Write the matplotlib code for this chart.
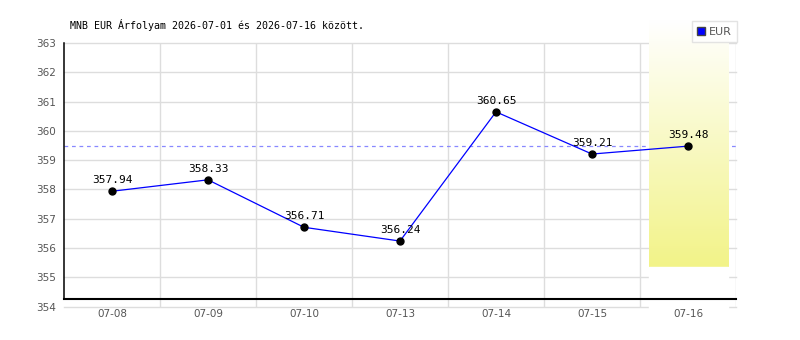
import numpy as np
import matplotlib.pyplot as plt
from matplotlib.colors import LinearSegmentedColormap

# adatok
dates = ['07-08', '07-09', '07-10', '07-13', '07-14', '07-15', '07-16']
rates = [357.94, 358.33, 356.71, 356.24, 360.65, 359.21, 359.48]
ref_line = 359.48
y_ticks = [354, 355, 356, 357, 358, 359, 360, 361, 362, 363]

fig = plt.figure(figsize=(8, 3.4), dpi=100)
ax = fig.add_axes([0.08, 0.098, 0.84, 0.7755])
x = np.arange(len(dates))
ax.set_xlim(-0.5, len(dates) - 0.5)
ax.set_ylim(354, 363)

# racs
for v in y_ticks:
    ax.axhline(v, color='#dddddd', lw=1, zorder=0, clip_on=False)
for b in np.arange(0.5, len(dates), 1.0):
    ax.axvline(b, color='#dddddd', lw=1, zorder=0)
for s in ax.spines.values():
    s.set_visible(False)

# referencia vonal (a kiemeles alatt)
ax.axhline(ref_line, color='#8888ff', lw=0.9, ls=(0, (3, 3)), zorder=1)

# kiemelt utolso nap (gradiens)
cmap = LinearSegmentedColormap.from_list('hl', ['#ffffff', '#f2f388'])
grad = np.linspace(0, 1, 256).reshape(-1, 1)
ax.imshow(grad, cmap=cmap, aspect='auto', extent=[5.594, 6.417, 355.355, 363.785],
          origin='upper', zorder=1.5, clip_on=False)
ax.fill_between([5.594, 6.417], 353.85, 355.355, color='white', zorder=1.5, clip_on=False)

# tengelyvonalak
ax.plot([0, 0], [0.029, 1], transform=ax.transAxes, color='black', lw=1.1, clip_on=False, zorder=4)
ax.plot([0, 1], [0.029, 0.029], transform=ax.transAxes, color='black', lw=1.5, clip_on=False, zorder=4)

ax.plot(x, rates, color='blue', lw=0.9, zorder=3)
ax.plot(x, rates, 'o', color='black', ms=5, zorder=5)
for xi, r in zip(x, rates):
    ax.text(xi, r + 0.2, f'{r:.2f}', ha='center', va='bottom', fontsize=8,
            family='DejaVu Sans Mono', zorder=6)

ax.set_xticks(x)
ax.set_xticklabels(dates, fontsize=7.5, color='#555555')
ax.set_yticks(y_ticks)
ax.set_yticklabels([str(v) for v in y_ticks], fontsize=7.5, color='#555555')
ax.tick_params(length=0, pad=6)
ax.tick_params(axis='x', pad=2)

fig.text(70 / 800, 1 - 25 / 340, 'MNB EUR Árfolyam 2026-07-01 és 2026-07-16 között.',
         fontsize=7.2, family='DejaVu Sans Mono', va='center', ha='left')

# jelmagyarazat
leg = ax.legend(handles=[plt.Line2D([], [], marker='s', color='blue', mec='#444444', ls='',
                                    ms=6)], labels=['EUR'],
                loc='upper right', bbox_to_anchor=(737 / 800, 1 - 21 / 340),
                bbox_transform=fig.transFigure, fontsize=8, frameon=True, fancybox=False,
                handlelength=0.7, handletextpad=0.3, borderpad=0.5, borderaxespad=0)
leg.get_frame().set_edgecolor('#dddddd')
leg.set_zorder(10)
for t in leg.get_texts():
    t.set_color('#555555')

fig.savefig('out.png', dpi=100)
